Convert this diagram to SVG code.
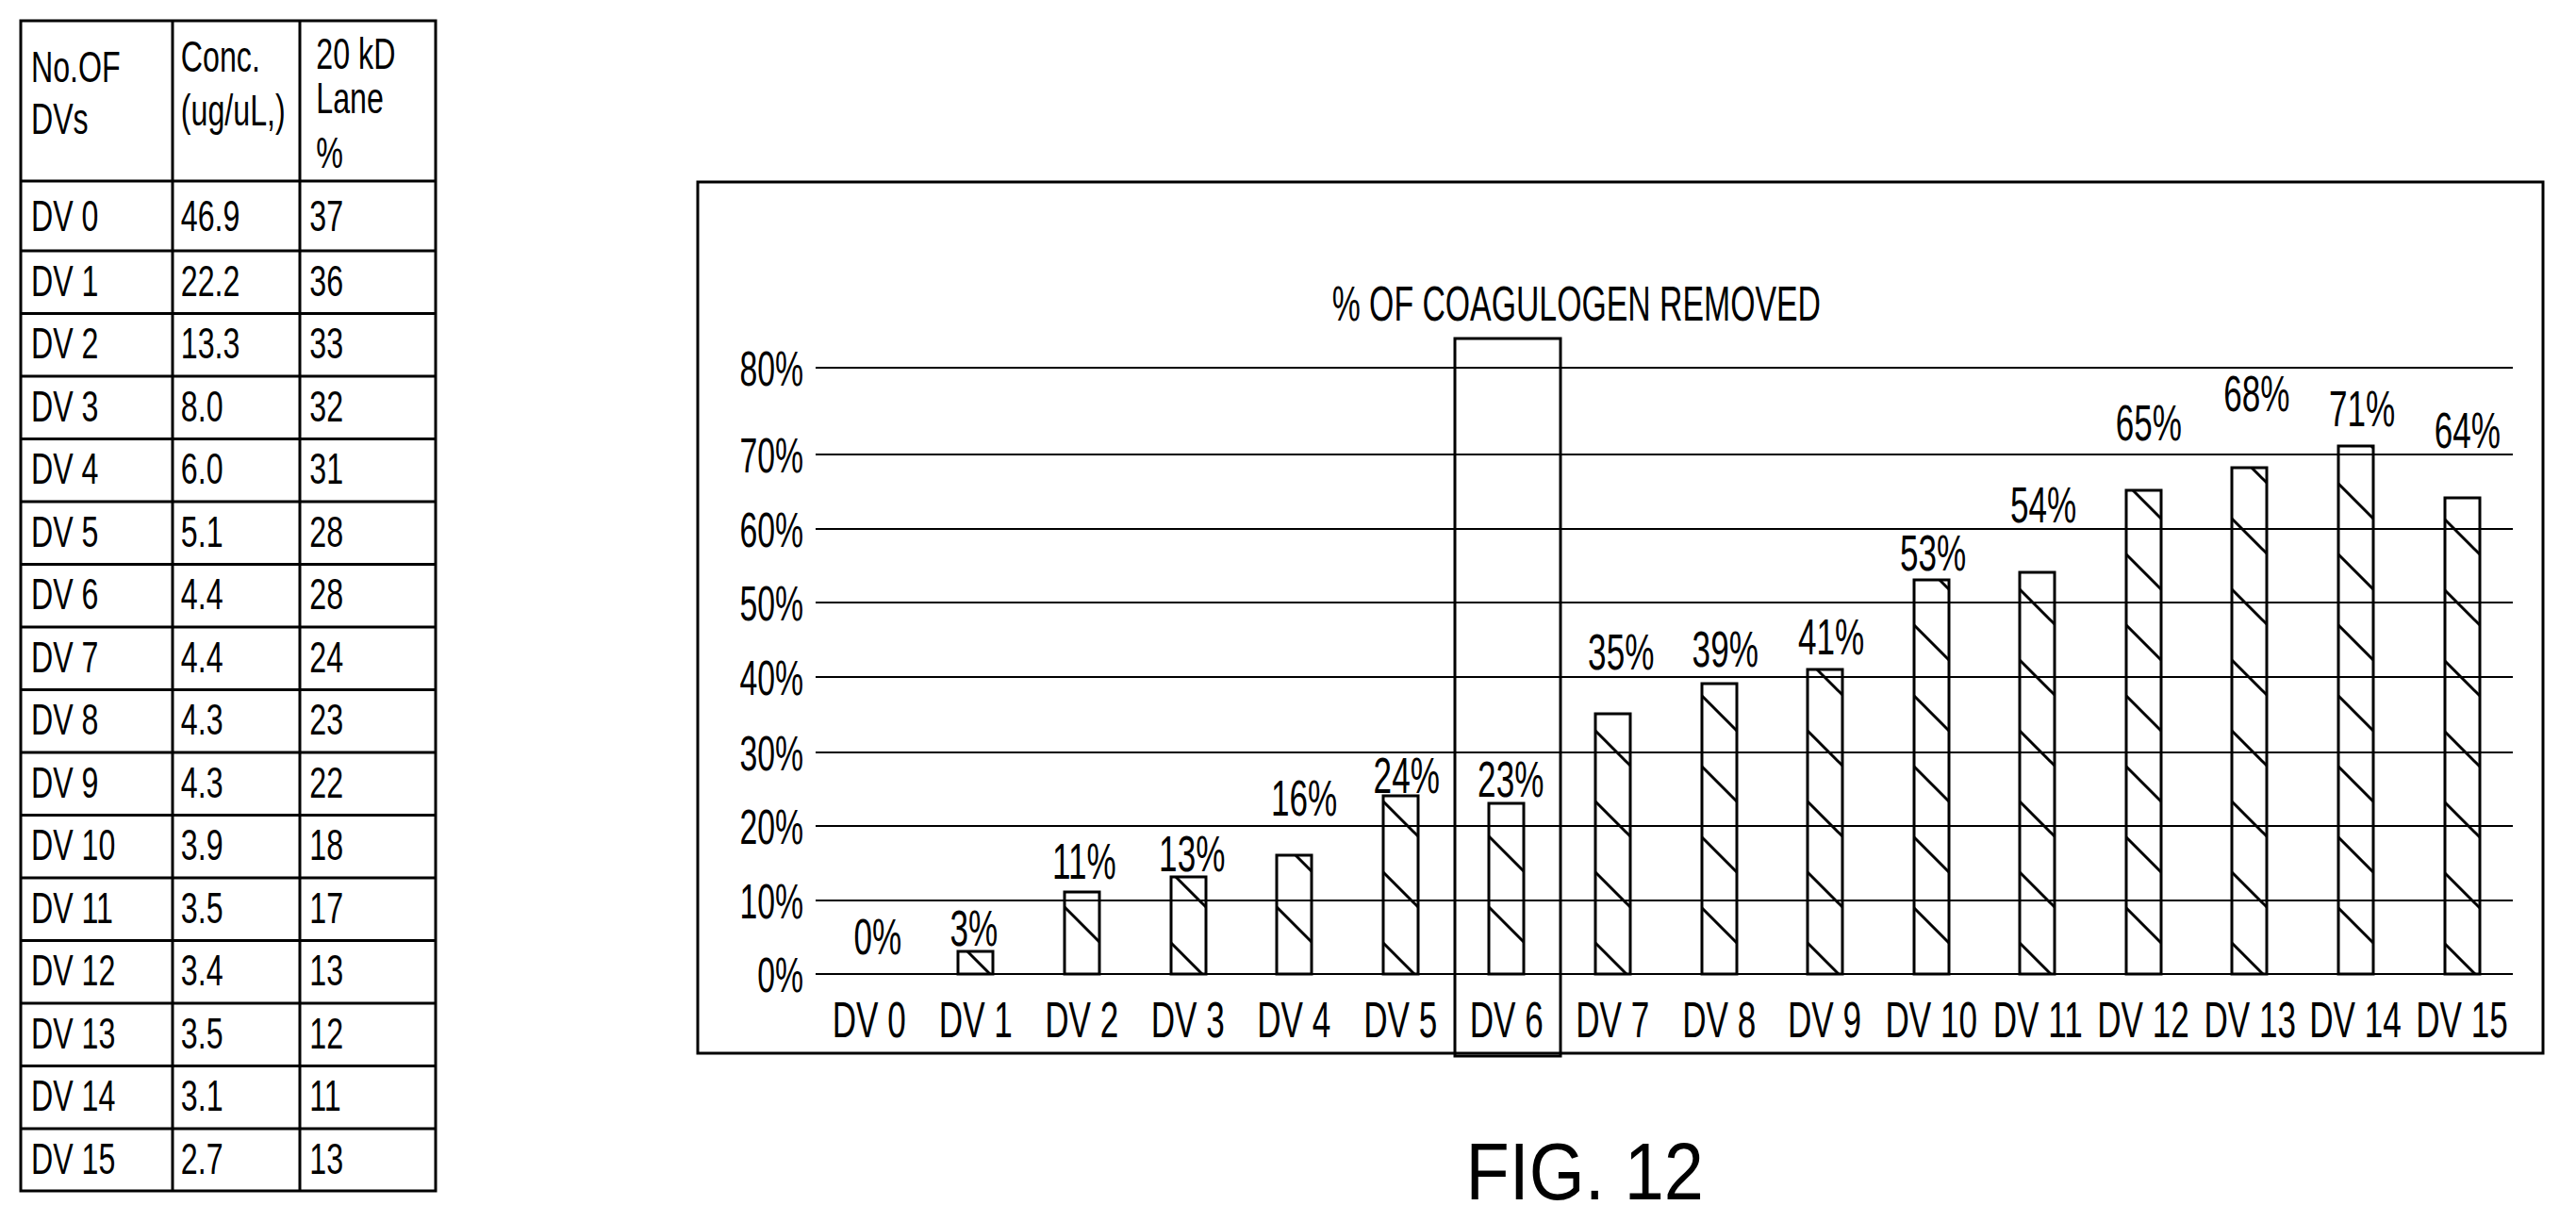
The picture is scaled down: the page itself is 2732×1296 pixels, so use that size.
<svg xmlns="http://www.w3.org/2000/svg" width="2732" height="1296" viewBox="0 0 2732 1296">
<style>
text{font-family:"Liberation Sans",Arial,sans-serif;fill:#000}
.t{font-size:46px}
.v{font-size:54px;text-anchor:middle}
.y{font-size:52px;text-anchor:end}
.g{stroke:#000;stroke-width:2}
.tb{fill:none;stroke:#000;stroke-width:3}
.bar{fill:url(#h);stroke:#000;stroke-width:3}
</style>
<defs>
<pattern id="h" patternUnits="userSpaceOnUse" width="75" height="75" x="0" y="1033">
<path d="M-10,-10 L85,85 M-10,65 L10,85 M65,-10 L85,10" stroke="#000" stroke-width="3"/>
</pattern>
</defs>
<g id="table">
<rect class="tb" x="22" y="22" width="440" height="1241"/>
<path class="tb" d="M183,22V1263M318,22V1263M22,192H462M22,266H462M22,332.5H462M22,399H462M22,465.5H462M22,532H462M22,598.5H462M22,665H462M22,731.5H462M22,798H462M22,864.5H462M22,931H462M22,997.5H462M22,1064H462M22,1130.5H462M22,1197H462"/>
<g class="t" transform="scale(0.7,1)">
<text x="47" y="87">No.OF</text><text x="47" y="142">DVs</text>
<text x="274" y="76">Conc.</text><text x="274" y="133">(ug/uL,)</text>
<text x="479" y="73">20 kD</text><text x="479" y="120">Lane</text><text x="479" y="178">%</text>
<text x="47" y="245">DV 0</text><text x="274" y="245">46.9</text><text x="469" y="245">37</text>
<text x="47" y="314">DV 1</text><text x="274" y="314">22.2</text><text x="469" y="314">36</text>
<text x="47" y="380">DV 2</text><text x="274" y="380">13.3</text><text x="469" y="380">33</text>
<text x="47" y="447">DV 3</text><text x="274" y="447">8.0</text><text x="469" y="447">32</text>
<text x="47" y="513">DV 4</text><text x="274" y="513">6.0</text><text x="469" y="513">31</text>
<text x="47" y="580">DV 5</text><text x="274" y="580">5.1</text><text x="469" y="580">28</text>
<text x="47" y="646">DV 6</text><text x="274" y="646">4.4</text><text x="469" y="646">28</text>
<text x="47" y="713">DV 7</text><text x="274" y="713">4.4</text><text x="469" y="713">24</text>
<text x="47" y="779">DV 8</text><text x="274" y="779">4.3</text><text x="469" y="779">23</text>
<text x="47" y="846">DV 9</text><text x="274" y="846">4.3</text><text x="469" y="846">22</text>
<text x="47" y="912">DV 10</text><text x="274" y="912">3.9</text><text x="469" y="912">18</text>
<text x="47" y="979">DV 11</text><text x="274" y="979">3.5</text><text x="469" y="979">17</text>
<text x="47" y="1045">DV 12</text><text x="274" y="1045">3.4</text><text x="469" y="1045">13</text>
<text x="47" y="1112">DV 13</text><text x="274" y="1112">3.5</text><text x="469" y="1112">12</text>
<text x="47" y="1178">DV 14</text><text x="274" y="1178">3.1</text><text x="469" y="1178">11</text>
<text x="47" y="1245">DV 15</text><text x="274" y="1245">2.7</text><text x="469" y="1245">13</text>
</g>
</g>
<g id="chart">
<rect class="tb" x="740" y="193" width="1957" height="924"/>
<g id="grid">
<path class="g" d="M865,1033H2665M865,955H2665M865,876H2665M865,798H2665M865,718H2665M865,639H2665M865,561H2665M865,482H2665M865,390H2665"/>
</g>
<g id="bars">
<rect class="bar" x="1016" y="1009" width="37" height="24"/>
<rect class="bar" x="1129" y="946" width="37" height="87"/>
<rect class="bar" x="1242" y="930" width="37" height="103"/>
<rect class="bar" x="1354" y="907" width="37" height="126"/>
<rect class="bar" x="1467" y="844" width="37" height="189"/>
<rect class="bar" x="1579" y="852" width="37" height="181"/>
<rect class="bar" x="1692" y="757" width="37" height="276"/>
<rect class="bar" x="1805" y="725" width="37" height="308"/>
<rect class="bar" x="1917" y="710" width="37" height="323"/>
<rect class="bar" x="2030" y="615" width="37" height="418"/>
<rect class="bar" x="2142" y="607" width="37" height="426"/>
<rect class="bar" x="2255" y="520" width="37" height="513"/>
<rect class="bar" x="2367" y="496" width="37" height="537"/>
<rect class="bar" x="2480" y="473" width="37" height="560"/>
<rect class="bar" x="2593" y="528" width="37" height="505"/>
</g>
<rect id="highlight" class="tb" x="1543" y="359" width="112" height="761"/>
<g transform="scale(0.65,1)">
<text x="2572" y="340" style="font-size:52px;text-anchor:middle">% OF COAGULOGEN REMOVED</text>
<g class="y">
<text x="1311" y="1052">0%</text><text x="1311" y="974">10%</text><text x="1311" y="895">20%</text><text x="1311" y="817">30%</text><text x="1311" y="737">40%</text><text x="1311" y="658">50%</text><text x="1311" y="580">60%</text><text x="1311" y="501">70%</text><text x="1311" y="409">80%</text>
</g>
<g class="v">
<text x="1432" y="1012">0%</text><text x="1589" y="1003">3%</text><text x="1769" y="932">11%</text><text x="1945" y="924">13%</text><text x="2128" y="865">16%</text><text x="2295" y="841">24%</text><text x="2465" y="845">23%</text><text x="2645" y="710">35%</text><text x="2815" y="707">39%</text><text x="2988" y="694">41%</text><text x="3154" y="605">53%</text><text x="3334" y="554">54%</text><text x="3506" y="467">65%</text><text x="3682" y="436">68%</text><text x="3854" y="452">71%</text><text x="4026" y="475">64%</text>
</g>
<g class="v">
<text x="1418" y="1100">DV 0</text><text x="1592" y="1100">DV 1</text><text x="1765" y="1100">DV 2</text><text x="1938" y="1100">DV 3</text><text x="2111" y="1100">DV 4</text><text x="2285" y="1100">DV 5</text><text x="2458" y="1100">DV 6</text><text x="2631" y="1100">DV 7</text><text x="2805" y="1100">DV 8</text><text x="2977" y="1100">DV 9</text><text x="3151" y="1100">DV 10</text><text x="3325" y="1100">DV 11</text><text x="3497" y="1100">DV 12</text><text x="3671" y="1100">DV 13</text><text x="3843" y="1100">DV 14</text><text x="4017" y="1100">DV 15</text>
</g>
</g>
<text x="1910" y="1272" transform="scale(0.88,1)" style="font-size:86px;text-anchor:middle">FIG. 12</text>
</g>
</svg>
